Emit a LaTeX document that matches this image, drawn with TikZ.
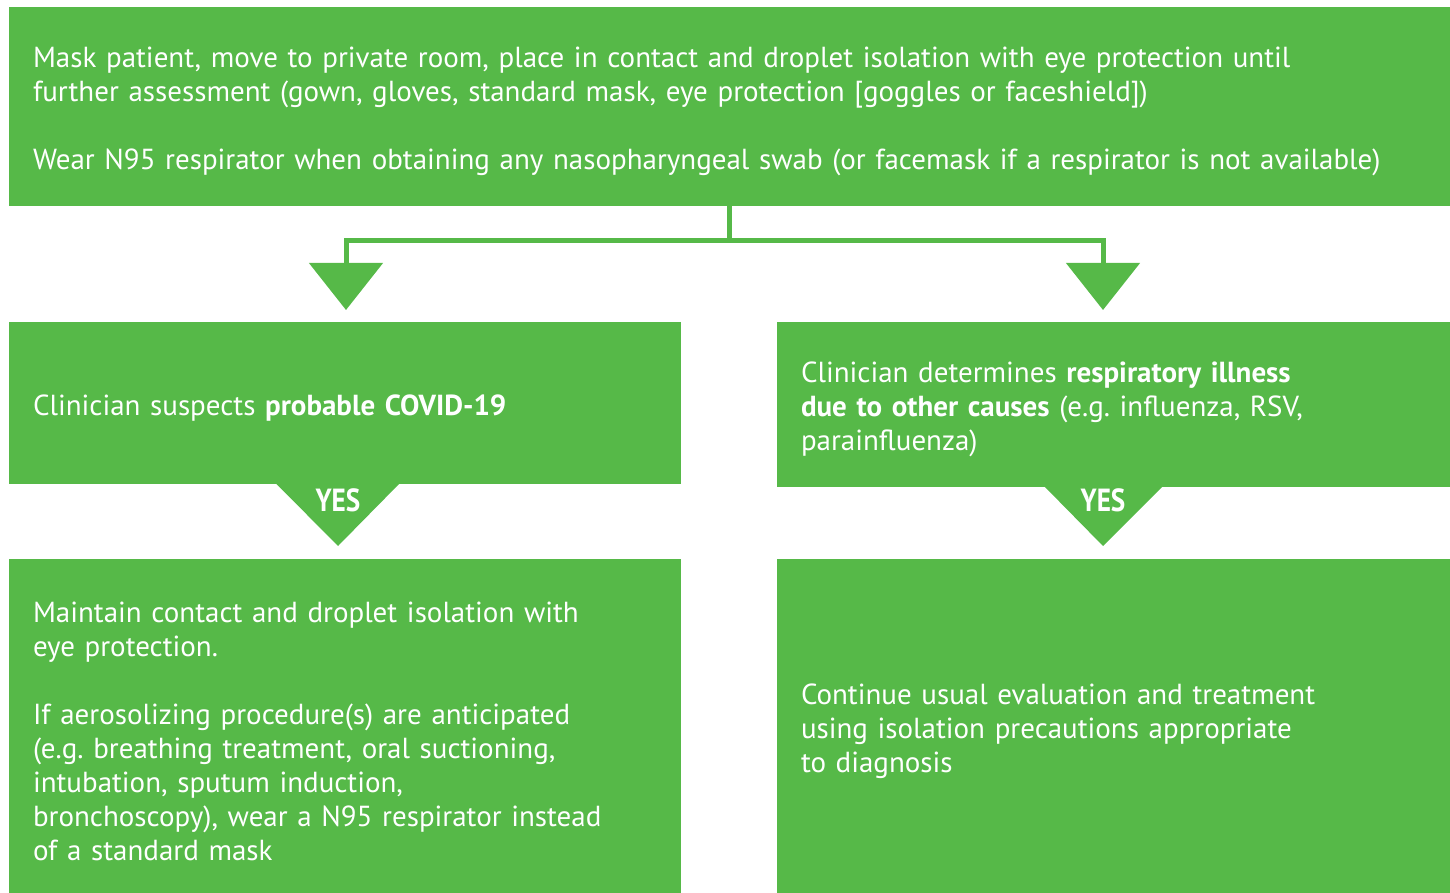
\documentclass[tikz,border=0pt]{standalone}
\usepackage{fontspec}
\setmainfont{PT Sans}
\newfontfamily\yesfont[FakeStretch=0.85]{PT Sans}
\usetikzlibrary{arrows.meta}
\definecolor{cdcgreen}{RGB}{86,185,72}
\tikzset{
  box/.style={fill=cdcgreen, text=white, align=left, inner xsep=12pt, inner ysep=0pt,
    font=\fontsize{14.5}{17}\selectfont\frenchspacing,
    execute at begin node={\rule{0pt}{15.5pt}}},
  link/.style={draw=cdcgreen, line width=2.5pt, -{Triangle[width=36.5pt,length=23.5pt]}},
  yeslabel/.style={text=white, inner sep=0pt, font=\yesfont\bfseries\fontsize{16}{16}\selectfont},
}
\begin{document}
\begin{tikzpicture}[x=1pt, y=-1pt]
    \useasboundingbox (0,0) rectangle (725,446.5);
    % boxes
    \node[box, text width=696.5pt, minimum height=99.5pt] (top) at (364.75,53.25)
        {Mask patient, move to private room, place in contact and droplet isolation with eye protection until\\
         further assessment (gown, gloves, standard mask, eye protection [goggles or faceshield])\\[17pt]
         Wear N95 respirator when obtaining any nasopharyngeal swab (or facemask if a respirator is not available)};
    \node[box, text width=312pt, minimum height=81pt] (midL) at (172.5,201.5)
        {Clinician suspects \textbf{probable COVID-19}};
    \node[box, text width=312.5pt, minimum height=82.5pt] (midR) at (556.75,202.25)
        {Clinician determines \textbf{respiratory illness}\\
         \textbf{due to other causes} (e.g. influenza, RSV,\\
         parainfluenza)};
    \node[box, text width=312pt, minimum height=167pt] (botL) at (172.5,363)
        {Maintain contact and droplet isolation with\\
         eye protection.\\[17pt]
         If aerosolizing procedure(s) are anticipated\\
         (e.g. breathing treatment, oral suctioning,\\
         intubation, sputum induction,\\
         bronchoscopy), wear a N95 respirator instead\\
         of a standard mask};
    \node[box, text width=312.5pt, minimum height=167pt] (botR) at (556.75,363)
        {Continue usual evaluation and treatment\\
         using isolation precautions appropriate\\
         to diagnosis};
    % fork
    \coordinate (tipL) at (173,155);
    \coordinate (tipR) at (551.5,155);
    \draw[link] (top.south) -- ++(0,17) -| (tipL);
    \draw[link] (top.south) -- ++(0,17) -| (tipR);
    % yes arrows
    \fill[cdcgreen] (137.75,241.5) -- (200,241.5) -- (169,273) -- cycle;
    \fill[cdcgreen] (522,243) -- (581.5,243) -- (551.5,273) -- cycle;
    \node[yeslabel] (yesL) at (169,250.25) {YES};
    \node[yeslabel] (yesR) at (551.5,250.25) {YES};
\end{tikzpicture}
\end{document}
